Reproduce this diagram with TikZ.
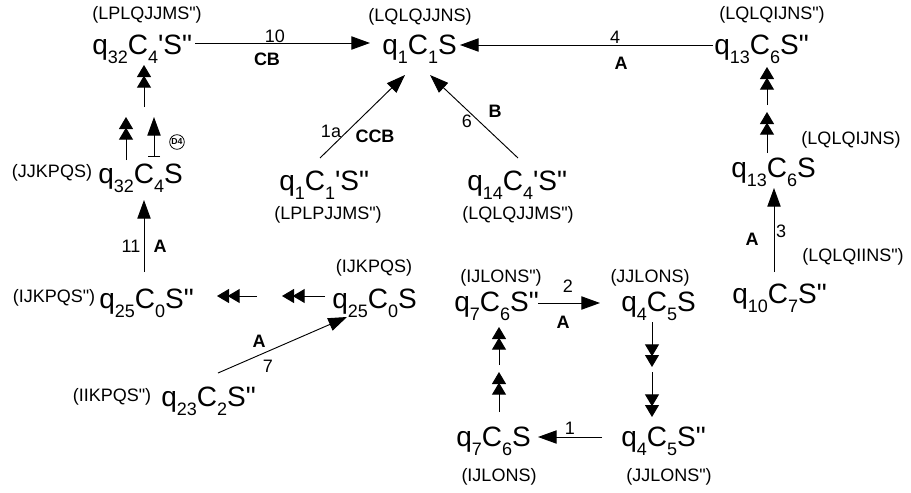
\documentclass[tikz,border=0pt]{standalone}
\usepackage{fontspec}
\setmainfont{Liberation Sans}[Ligatures=TeXOff]
\usetikzlibrary{arrows.meta,calc}
\newcommand\lo[1]{\raisebox{-7pt}{\fontsize{13.5}{14}\selectfont #1}}
\begin{document}
\begin{tikzpicture}[x=0.75pt,y=-0.75pt,
  st/.style={inner sep=0pt,anchor=base west,font=\fontsize{21}{24}\selectfont},
  lb/.style={inner sep=0pt,font=\fontsize{13.5}{15}\selectfont},
  el/.style={inner sep=0pt,font=\fontsize{13.5}{15}\selectfont},
  eb/.style={inner sep=0pt,font=\fontsize{13.5}{15}\selectfont\bfseries},
  ln/.style={line width=0.7pt},
  one/.style={ln,-{Triangle[length=14pt,width=10pt]}},
  two/.style={ln,-{Triangle[length=9pt,width=10.5pt,sep=-1pt]Triangle[length=9pt,width=10.5pt]}},
  ]
\useasboundingbox (0,0) rectangle (911,493);
% main states
\node[st] (q32p) at (92,54) {q\lo{32}C\lo{4}'S"};
\node[st] (q1) at (382,54) {q\lo{1}C\lo{1}S};
\node[st] (q13p) at (714,54) {q\lo{13}C\lo{6}S"};
\node[st] (q13) at (731,177) {q\lo{13}C\lo{6}S};
\node[st] (q10) at (732,303) {q\lo{10}C\lo{7}S"};
\node[st] (q32) at (98,183) {q\lo{32}C\lo{4}S};
\node[st] (q25p) at (99,308) {q\lo{25}C\lo{0}S"};
\node[st] (q25) at (332,308) {q\lo{25}C\lo{0}S};
\node[st] (q23p) at (161,406) {q\lo{23}C\lo{2}S"};
\node[st] (q1p) at (279,190) {q\lo{1}C\lo{1}'S"};
\node[st] (q14p) at (467,190) {q\lo{14}C\lo{4}'S"};
\node[st] (q7p) at (454,311) {q\lo{7}C\lo{6}S"};
\node[st] (q4) at (621,311) {q\lo{4}C\lo{5}S};
\node[st] (q7) at (456,446) {q\lo{7}C\lo{6}S};
\node[st] (q4p) at (621,446) {q\lo{4}C\lo{5}S"};
% codes
\node[lb] (c32p) at (147,15) {(LPLQJJMS")};
\node[lb] (c1) at (420,17) {(LQLQJJNS)};
\node[lb] (c13p) at (772,15) {(LQLQIJNS")};
\node[lb] (c13) at (851,140) {(LQLQIJNS)};
\node[lb] (c10) at (853,257) {(LQLQIINS")};
\node[lb] (c32) at (52,173) {(JJKPQS)};
\node[lb] (c25p) at (54,298) {(IJKPQS")};
\node[lb] (c25) at (374,268) {(IJKPQS)};
\node[lb] (c23p) at (112,397) {(IIKPQS")};
\node[lb] (c1p) at (328,215) {(LPLPJJMS")};
\node[lb] (c14p) at (518,215) {(LQLQJJMS")};
\node[lb] (c7p) at (501,278) {(IJLONS")};
\node[lb] (c4) at (650,278) {(JJLONS)};
\node[lb] (c7) at (499,477) {(IJLONS)};
\node[lb] (c4p) at (669,477) {(JJLONS")};
% intermediate points
\coordinate (r1) at (767,112);
\coordinate (r2) at (767,105);
\coordinate (l1) at (126,117);
\coordinate (l2) at (154,117);
\coordinate (l3) at (144,107);
\coordinate (m1) at (282,296);
\coordinate (m2) at (257,296);
\coordinate (d1) at (652,367);
\coordinate (d2) at (652,372);
\coordinate (u1) at (499,372);
\coordinate (u2) at (499,365);
% connectors
\draw[one] ($(q32p.base west)+(103,-11)$) -- ($(q1.base west)+(-12,-11)$);
\draw[one] ($(q13p.base west)+(-1,-9)$) -- ($(q1.base west)+(78,-9)$);
\draw[one] ($(q1p.base west)+(41,-32)$) -- ($(q1.base west)+(23,21)$);
\draw[one] ($(q14p.base west)+(51,-32)$) -- ($(q1.base west)+(48,21)$);
\draw[two] ($(q13.base west)+(36,-24)$) -- (r1);
\draw[two] (r2) -- ($(q13p.base west)+(53,13)$);
\draw[one] ($(q10.base west)+(42,-31)$) -- ($(q13.base west)+(43,11)$);
\draw[one] ($(q25p.base west)+(45,-36)$) -- ($(q32.base west)+(46,17)$);
\draw[two] ($(q32.base west)+(28,-23)$) -- (l1);
\draw[ln,{Bar[width=9pt]}-{Triangle[length=14pt,width=10pt]}] ($(q32.base west)+(56,-26)$) -- (l2);
\draw[two] (l3) -- ($(q32p.base west)+(52,11)$);
\draw[two] ($(q25.base west)+(-7,-12)$) -- (m1);
\draw[two] (m2) -- ($(q25p.base west)+(118,-12)$);
\draw[one] ($(q23p.base west)+(57,-33)$) -- ($(q25.base west)+(15,9)$);
\draw[one] ($(q7p.base west)+(84,-8)$) -- ($(q4.base west)+(-21,-8)$);
\draw[two] ($(q4.base west)+(31,11)$) -- (d1);
\draw[two] (d2) -- ($(q4p.base west)+(31,-29)$);
\draw[two] ($(q7.base west)+(43,-34)$) -- (u1);
\draw[two] (u2) -- ($(q7p.base west)+(45,16)$);
\draw[one] ($(q4p.base west)+(-19,-9)$) -- ($(q7.base west)+(82,-9)$);
% edge labels
\node[el] (n10) at (275,36) {10};
\node[eb] (nCB) at (267,59) {CB};
\node[el] (n4) at (615,37) {4};
\node[eb] (nA4) at (621,63) {A};
\node[el] (n1a) at (331,131) {1a};
\node[eb] (nCCB) at (375,136) {CCB};
\node[el] (n6) at (467,121) {6};
\node[eb] (nB) at (495,111) {B};
\node[el] (n3) at (781,231) {3};
\node[eb] (nA3) at (752,239) {A};
\node[el] (n11) at (131,246) {11};
\node[eb] (nA11) at (160,246) {A};
\node[eb] (nA7) at (259,341) {A};
\node[el] (n7) at (268,366) {7};
\node[el] (n2) at (568,286) {2};
\node[eb] (nA2) at (563,322) {A};
\node[el] (n1) at (570,428) {1};
\node[draw,circle,inner sep=0.3pt,minimum size=11pt,line width=0.6pt,font=\fontsize{6.5}{7}\selectfont\bfseries] (d4) at (177,142) {D4};
\end{tikzpicture}
\end{document}
